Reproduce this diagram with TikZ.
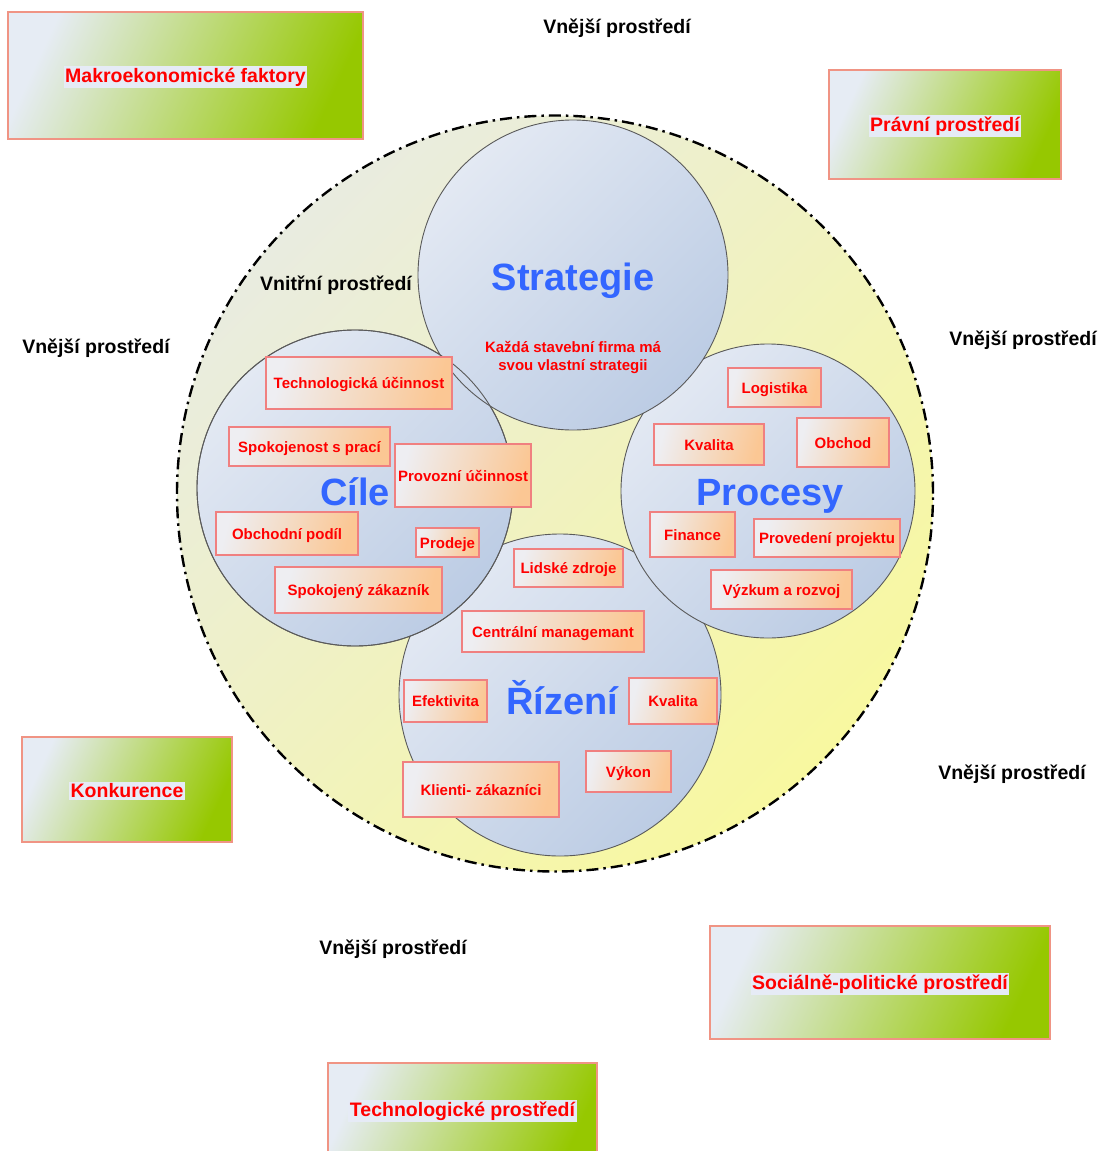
\documentclass[tikz,border=0pt]{standalone}
\usepackage{fontspec}
\setmainfont{Liberation Sans}
\definecolor{circA}{HTML}{E3E9F3}
\definecolor{circB}{HTML}{BCCCE4}
\definecolor{circline}{HTML}{5A5A5A}
\definecolor{outA}{HTML}{E9ECE0}
\definecolor{outB}{HTML}{F8F8A0}
\definecolor{sboxA}{HTML}{EEEEF2}
\definecolor{sboxB}{HTML}{FBC794}
\definecolor{boxline}{HTML}{F08080}
\definecolor{gA}{HTML}{E6ECF4}
\definecolor{gB}{HTML}{96C800}
\definecolor{gline}{HTML}{F09484}
\definecolor{hl}{HTML}{E6EBF6}
\definecolor{titleblue}{HTML}{3366FF}
\definecolor{redtxt}{HTML}{FF0000}
\begin{document}
\begin{tikzpicture}[x=1pt,y=-1pt,
  outercirc/.style={circle, draw=black, line width=2.4pt,
    dash pattern=on 12pt off 5pt on 2.5pt off 5pt,
    top color=outA, bottom color=outB, shading angle=45, inner sep=0pt},
  circ/.style={circle, draw=circline, line width=0.9pt,
    top color=circA, bottom color=circB, shading angle=45, inner sep=0pt},
  circrim/.style={circle, draw=circline, line width=0.9pt, inner sep=0pt},
  sbox/.style={draw=boxline, line width=1.3pt,
    top color=sboxA, bottom color=sboxB, shading angle=75,
    inner sep=0pt, text height=11pt, text depth=0pt,
    font=\bfseries\fontsize{15}{18}\selectfont, text=redtxt},
  gbox/.style={draw=gline, line width=1.3pt,
    top color=gA, bottom color=gB, shading angle=65, inner sep=0pt},
  glabel/.style={fill=hl, inner sep=1.5pt,
    font=\bfseries\fontsize{19.5}{23}\selectfont, text=redtxt},
  outlabel/.style={font=\bfseries\fontsize{19.5}{23}\selectfont, text=black},
  bigtitle/.style={font=\bfseries\fontsize{38}{44}\selectfont, text=titleblue},
]
\useasboundingbox (0,0) rectangle (1100,1151);

% outer environment boxes
\node[gbox, minimum width=355pt, minimum height=127pt] (makroB) at (185.5,75.5) {};
\node[glabel] (makro) at (185.5,77) {Makroekonomické faktory};
\node[gbox, minimum width=232pt, minimum height=109pt] (pravniB) at (945,124.5) {};
\node[glabel] (pravni) at (945,126) {Právní prostředí};
\node[gbox, minimum width=210pt, minimum height=105pt] (konkB) at (127,789.5) {};
\node[glabel] (konk) at (127,791) {Konkurence};
\node[gbox, minimum width=340pt, minimum height=113pt] (socB) at (880,982.5) {};
\node[glabel] (soc) at (880,984) {Sociálně-politické prostředí};
\node[gbox, minimum width=269pt, minimum height=110pt] (techB) at (462.5,1118) {};
\node[glabel] (tech) at (462.5,1111) {Technologické prostředí};

% outer labels
\node[outlabel] (v1) at (617,28) {Vnější prostředí};
\node[outlabel] (v2) at (96,348) {Vnější prostředí};
\node[outlabel] (v3) at (1023,340) {Vnější prostředí};
\node[outlabel] (v4) at (1012,774) {Vnější prostředí};
\node[outlabel] (v5) at (393,949) {Vnější prostředí};

% inner environment
\node[outercirc, minimum size=756pt] (outer) at (555,493.5) {};
\node[outlabel] (vnitrni) at (336,285) {Vnitřní prostředí};

% four circles
\node[circ, minimum size=322pt] (rizeni) at (560,695) {};
\node[circ, minimum size=316pt] (cile) at (355,488) {};
\node[circ, minimum size=294pt] (procesy) at (768,491) {};
\node[circ, minimum size=310pt] (strategie) at (573,275) {};
\node[circrim, minimum size=316pt] (cileRim) at (cile) {};

% titles
\node[bigtitle] (tStrat) at (573,281) {Strategie};
\node[font=\bfseries\fontsize{15}{18}\selectfont, text=redtxt, align=center] (tStratSub) at (573,357) {Každá stavební firma má\\svou vlastní strategii};
\node[bigtitle] (tCile) at (355,492) {Cíle};
\node[bigtitle] (tProc) at (770,496) {Procesy};
\node[bigtitle] (tRiz) at (562,698) {Řízení};

% Cíle boxes
\node[sbox, minimum width=186pt, minimum height=52pt] (techU) at (359,383) {Technologická účinnost};
\node[sbox, minimum width=161pt, minimum height=39pt] (spokP) at (309.5,446.5) {Spokojenost s prací};
\node[sbox, minimum width=136pt, minimum height=63pt] (provU) at (463,475.5) {Provozní účinnost};
\node[sbox, minimum width=142pt, minimum height=43pt] (obchP) at (287,533.5) {Obchodní podíl};
\node[sbox, minimum width=63pt, minimum height=29pt] (prodeje) at (447.5,542.5) {Prodeje};
\node[sbox, minimum width=167pt, minimum height=46pt] (spokZ) at (358.5,590) {Spokojený zákazník};

% Procesy boxes
\node[sbox, minimum width=93pt, minimum height=39pt] (logist) at (774.5,387.5) {Logistika};
\node[sbox, minimum width=110pt, minimum height=41pt] (kvalP) at (709,444.5) {Kvalita};
\node[sbox, minimum width=92pt, minimum height=49pt] (obchod) at (843,442.5) {Obchod};
\node[sbox, minimum width=85pt, minimum height=45pt] (finance) at (692.5,534.5) {Finance};
\node[sbox, minimum width=146pt, minimum height=38pt] (proved) at (827,538) {Provedení projektu};
\node[sbox, minimum width=141pt, minimum height=39pt] (vyzkum) at (781.5,589.5) {Výzkum a rozvoj};

% Řízení boxes
\node[sbox, minimum width=109pt, minimum height=38pt] (lidske) at (568.5,568) {Lidské zdroje};
\node[sbox, minimum width=182pt, minimum height=41pt] (central) at (553,631.5) {Centrální managemant};
\node[sbox, minimum width=83pt, minimum height=42pt] (efekt) at (445.5,701) {Efektivita};
\node[sbox, minimum width=88pt, minimum height=46pt] (kvalR) at (673,701) {Kvalita};
\node[sbox, minimum width=156pt, minimum height=55pt] (klienti) at (481,789.5) {Klienti- zákazníci};
\node[sbox, minimum width=85pt, minimum height=41pt] (vykon) at (628.5,771.5) {Výkon};
\end{tikzpicture}
\end{document}
